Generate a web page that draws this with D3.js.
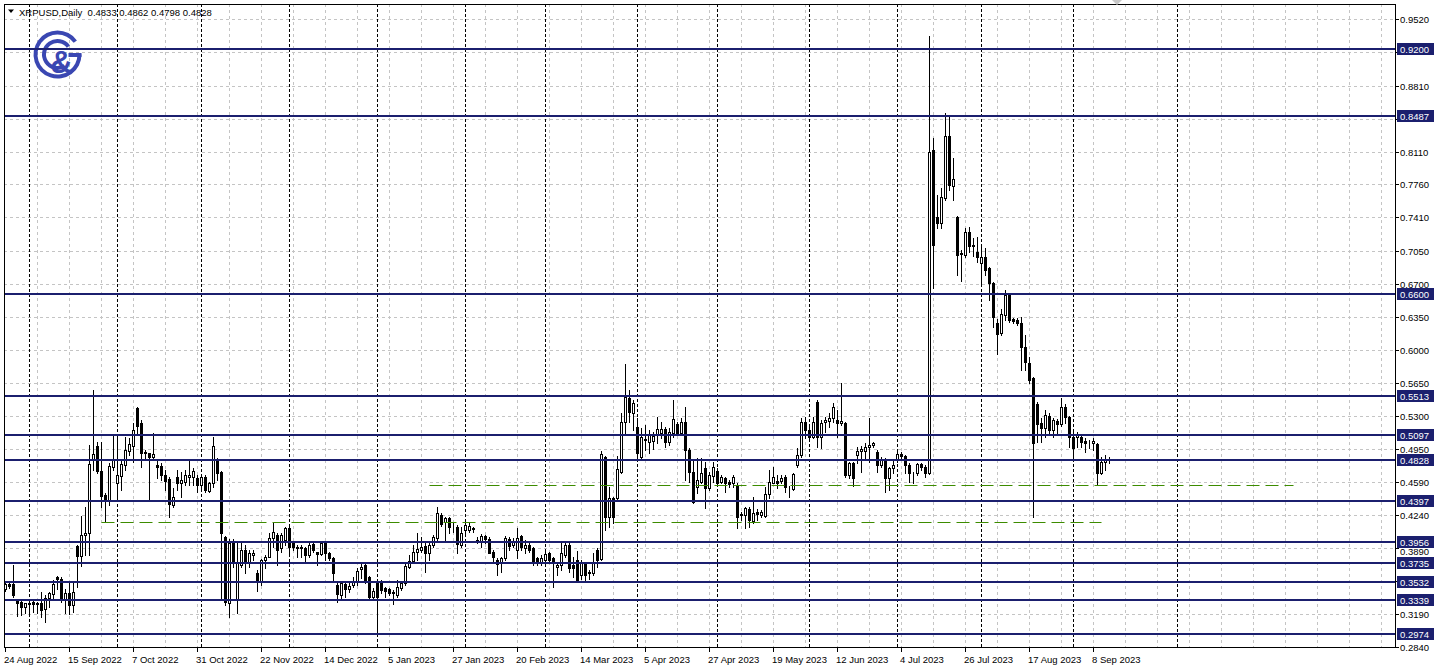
<!DOCTYPE html>
<html>
<head>
<meta charset="utf-8">
<script src="https://cdn.jsdelivr.net/npm/d3@7"></script>
<style>
body { margin: 0; background: #fff; }
svg { display: block; font-family: "Liberation Sans", Arial, sans-serif; }
</style>
</head>
<body>
<script>
let opens = [
	.3453,.3510,.3510,.3340,.3322,.3269,.3311,.3322,.3311,.3304,
	.3240,.3357,.3403,.3588,.3559,.3340,.3418,.3286,.3914,.3808,
	.4031,.4049,.4829,.4977,.4715,.4456,.4403,.4758,.4587,.4658,
	.4775,.4924,.4977,.5385,.5219,.4917,.4900,.4857,.4775,.4765,
	.4669,.4627,.4350,.4651,.4580,.4598,.4651,.4651,.4634,.4563,
	.4651,.4502,.4580,.4829,.4704,.4013,.3304,.3960,.3347,.3712,
	.3871,.3729,.3818,.3623,.3534,.3765,.3800,.3995,.4031,.3889,
	.3978,.4102,.3942,.3907,.3889,.3889,.3818,.3935,.3854,.3829,
	.3949,.3843,.3783,.3499,.3393,.3510,.3453,.3499,.3534,.3666,
	.3712,.3588,.3375,.3534,.3534,.3464,.3453,.3411,.3393,.3464,
	.3517,.3694,.3758,.3854,.3871,.3914,.3843,.3925,.3995,.4244,
	.4173,.4208,.4120,.4120,.3925,.4084,.4084,.4102,.3978,.3971,
	.4021,.3985,.3854,.3765,.3730,.3783,.3985,.3925,.3872,.4021,
	.3889,.3925,.3889,.3783,.3747,.3765,.3836,.3783,.3687,.3712,
	.3818,.3925,.3712,.3765,.3606,.3730,.3641,.3623,.3872,.3772,
	.4857,.4226,.4421,.4421,.4705,.5237,.5485,.5325,.5183,.4857,
	.5049,.5024,.5035,.5095,.5120,.5155,.5024,.5113,.5212,.5113,
	.5237,.4935,.4705,.4545,.4598,.4740,.4527,.4659,.4715,.4598,
	.4634,.4598,.4581,.4563,.4255,.4244,.4304,.4183,.4279,.4244,
	.4233,.4467,.4588,.4609,.4609,.4645,.4538,.4517,.4776,.4882,
	.5237,.5148,.5077,.5449,.5070,.5237,.5247,.5272,.5254,.5219,
	.5219,.4669,.4793,.4882,.4928,.4928,.4964,.4988,.4917,.4775,
	.4829,.4634,.4740,.4829,.4892,.4871,.4775,.4694,.4694,.4786,
	.4758,.4687,.8126,.7417,.7353,.7612,.8275,.7744,.7410,.7034,
	.7009,.7258,.7116,.7045,.6921,.6985,.6868,.6708,.6290,.6176,
	.6371,.6584,.6325,.6318,.6290,.6035,.5857,.5698,.5425,.5226,
	.5166,.5297,.5148,.5247,.5212,.5396,.5283,.5077,.5070,.5077,
	.5035,.5013,.5013,.4999,.4694,.4804,.4833
]
let highs = [
	.3535,.3517,.3712,.3340,.3329,.3311,.3322,.3340,.3322,.3428,
	.3393,.3428,.3552,.3595,.3588,.3453,.3535,.3535,.3925,.4233,
	.4325,.4988,.5573,.5024,.5024,.4474,.4793,.5095,.5077,.4829,
	.5077,.5059,.5219,.5396,.5254,.4935,.4907,.5119,.4836,.4793,
	.4722,.4651,.4527,.4722,.4705,.4722,.4829,.4740,.4669,.4669,
	.4669,.4598,.5077,.4846,.4712,.4020,.3985,.3985,.3960,.3960,
	.3925,.3871,.3871,.3659,.3772,.3818,.4049,.4173,.4049,.4049,
	.4120,.4120,.3960,.3925,.3925,.3907,.3942,.3949,.3854,.3960,
	.3960,.3854,.3793,.3517,.3524,.3524,.3517,.3588,.3676,.3729,
	.3729,.3595,.3464,.3552,.3552,.3481,.3464,.3446,.3552,.3534,
	.3747,.3818,.3925,.4056,.4006,.3960,.3949,.4031,.4325,.4261,
	.4226,.4226,.4155,.4137,.4120,.4198,.4155,.4120,.4013,.4042,
	.4031,.4013,.3872,.3783,.3801,.4021,.4013,.3996,.4102,.4031,
	.3978,.3942,.3907,.3801,.3818,.3854,.3854,.3801,.3747,.3942,
	.3942,.3942,.3801,.3864,.3765,.3747,.3659,.3836,.3889,.4928,
	.4872,.4545,.4432,.4872,.5325,.5850,.5574,.5467,.5272,.5166,
	.5201,.5148,.5130,.5290,.5237,.5183,.5166,.5467,.5237,.5272,
	.5396,.4953,.4829,.4847,.4847,.4811,.4705,.4811,.4740,.4669,
	.4652,.4616,.4669,.4581,.4279,.4332,.4332,.4439,.4304,.4297,
	.4538,.4722,.4758,.4669,.4669,.4669,.4552,.4694,.4953,.5272,
	.5290,.5176,.5290,.5467,.5254,.5290,.5325,.5432,.5361,.5644,
	.5237,.4811,.4811,.4971,.4978,.5006,.5272,.5024,.4935,.4864,
	.4847,.4758,.4829,.4917,.4917,.4882,.4793,.4705,.4800,.4800,
	.4775,.9339,.8251,.7648,.7719,.8517,.8481,.8038,.7424,.7063,
	.7293,.7311,.7187,.7205,.7098,.7080,.6885,.6726,.6325,.6431,
	.6637,.6602,.6336,.6336,.6346,.6158,.5928,.5716,.5450,.5272,
	.5361,.5325,.5272,.5262,.5485,.5425,.5297,.5148,.5130,.5095,
	.5059,.5042,.5059,.5013,.4857,.4882,.4862
]
let lows = [
	.3439,.3470,.3375,.3169,.3180,.3205,.3197,.3215,.3197,.3162,
	.3109,.3269,.3340,.3453,.3322,.3205,.3191,.3215,.3481,.3701,
	.3818,.3818,.4722,.4687,.4332,.4173,.4350,.4722,.4403,.4509,
	.4722,.4882,.4811,.5095,.4758,.4829,.4403,.4829,.4634,.4616,
	.4509,.4219,.4332,.4509,.4439,.4563,.4563,.4563,.4492,.4509,
	.4492,.4492,.4545,.4616,.3340,.3286,.3162,.3694,.3205,.3694,
	.3623,.3694,.3765,.3439,.3499,.3676,.3800,.3907,.3712,.3854,
	.3925,.3836,.3871,.3800,.3800,.3729,.3800,.3854,.3712,.3818,
	.3765,.3765,.3552,.3322,.3347,.3375,.3428,.3481,.3499,.3570,
	.3517,.3347,.3340,.2985,.3417,.3375,.3393,.3297,.3375,.3446,
	.3499,.3676,.3737,.3765,.3854,.3641,.3765,.3907,.3978,.4127,
	.3960,.4049,.4067,.3836,.3907,.4049,.4067,.4067,.3942,.3907,
	.3942,.3836,.3730,.3606,.3641,.3765,.3872,.3907,.3783,.3872,
	.3836,.3854,.3712,.3712,.3712,.3747,.3747,.3482,.3606,.3659,
	.3801,.3641,.3588,.3545,.3560,.3552,.3560,.3606,.3694,.3765,
	.4084,.4120,.4155,.4403,.4687,.5113,.5237,.5148,.4847,.4829,
	.4935,.4900,.4950,.5006,.5059,.4971,.4989,.5077,.5095,.5095,
	.4616,.4598,.4370,.4474,.4581,.4315,.4510,.4598,.4581,.4581,
	.4492,.4545,.4545,.4102,.4191,.4102,.4120,.4155,.4191,.4226,
	.4226,.4421,.4581,.4527,.4581,.4492,.4432,.4510,.4758,.4864,
	.5059,.5059,.5059,.4971,.4953,.5130,.5183,.5237,.5077,.5201,
	.4651,.4634,.4552,.4793,.4705,.4829,.4811,.4971,.4705,.4758,
	.4492,.4510,.4687,.4811,.4847,.4687,.4598,.4580,.4669,.4722,
	.4651,.4680,.6655,.7293,.7293,.7595,.7701,.7595,.6797,.6736,
	.6992,.7045,.6999,.6939,.6715,.6797,.6531,.6247,.5956,.6158,
	.6318,.6300,.6283,.6265,.5787,.5787,.5645,.4226,.5024,.5024,
	.5077,.5095,.5077,.5113,.5191,.5219,.4971,.4847,.4971,.4971,
	.4918,.4953,.4935,.4574,.4680,.4723,.4798
]
let closes = [
	.3510,.3488,.3393,.3311,.3269,.3304,.3297,.3297,.3297,.3233,
	.3357,.3411,.3510,.3563,.3340,.3411,.3286,.3428,.3808,.4031,
	.4056,.4786,.4889,.4715,.4446,.4403,.4765,.4829,.4669,.4783,
	.4935,.4999,.5148,.5190,.4907,.4900,.4857,.4889,.4758,.4669,
	.4609,.4361,.4439,.4580,.4616,.4669,.4669,.4715,.4563,.4644,
	.4509,.4580,.4977,.4694,.4049,.3322,.3942,.3729,.3729,.3871,
	.3729,.3836,.3836,.3534,.3765,.3800,.3995,.4066,.3871,.4031,
	.4102,.3907,.3907,.3889,.3907,.3818,.3925,.3871,.3829,.3949,
	.3843,.3783,.3630,.3403,.3517,.3453,.3492,.3534,.3652,.3694,
	.3534,.3375,.3439,.3375,.3446,.3439,.3411,.3425,.3474,.3517,
	.3701,.3758,.3854,.3878,.3907,.3843,.3925,.4013,.4269,.4148,
	.4208,.4113,.4113,.3935,.4049,.4137,.4130,.4098,.3960,.4021,
	.3985,.3843,.3801,.3723,.3783,.3996,.3914,.3960,.3996,.3900,
	.3925,.3872,.3730,.3747,.3783,.3829,.3765,.3730,.3712,.3836,
	.3925,.3677,.3677,.3552,.3737,.3606,.3623,.3737,.3765,.4893,
	.4226,.4421,.4226,.4730,.5237,.5503,.5343,.5439,.4900,.5070,
	.5042,.5095,.5084,.5155,.5155,.5024,.5130,.5261,.5113,.5237,
	.4935,.4705,.4386,.4616,.4687,.4527,.4669,.4758,.4588,.4645,
	.4588,.4574,.4652,.4226,.4240,.4315,.4191,.4261,.4251,.4279,
	.4467,.4598,.4645,.4588,.4634,.4538,.4545,.4680,.4882,.5237,
	.5148,.5077,.5237,.5070,.5226,.5254,.5272,.5396,.5226,.5247,
	.4669,.4793,.4634,.4928,.4942,.4971,.4988,.5006,.4775,.4829,
	.4634,.4740,.4775,.4892,.4871,.4775,.4687,.4687,.4786,.4751,
	.4687,.8109,.7116,.7346,.7630,.8275,.7754,.7814,.7009,.7020,
	.7258,.7105,.7105,.6992,.6985,.6850,.6708,.6353,.6169,.6382,
	.6584,.6318,.6311,.6283,.6035,.5875,.5680,.5006,.5212,.5166,
	.5308,.5148,.5255,.5212,.5396,.5290,.5077,.4953,.5095,.5024,
	.5006,.5006,.5035,.4694,.4804,.4829,.4828
]

let priceTicks = [0.9520, 0.9170, 0.8810, 0.8460, 0.8110, 0.7760, 0.7410, 0.7050, 0.6700, 0.6350,
	0.6000, 0.5650, 0.5300, 0.4950, 0.4590, 0.4240, 0.3890, 0.3540, 0.3190, 0.2840]
// these tick labels sit under a level tag, the terminal hides them
let hiddenTicks = [0.9170, 0.8460, 0.3540]
let levels = [0.9200, 0.8487, 0.6600, 0.5513, 0.5097, 0.4828, 0.4397, 0.3956, 0.3735, 0.3532, 0.3339, 0.2974]
let dateLabels = ['24 Aug 2022', '15 Sep 2022', '7 Oct 2022', '31 Oct 2022', '22 Nov 2022', '14 Dec 2022',
	'5 Jan 2023', '27 Jan 2023', '20 Feb 2023', '14 Mar 2023', '5 Apr 2023', '27 Apr 2023',
	'19 May 2023', '12 Jun 2023', '4 Jul 2023', '26 Jul 2023', '17 Aug 2023', '8 Sep 2023']
let labelEvery = 16
let gridEvery = 8
// first bar of each month (future months counted in calendar days like the terminal does)
let monthBars = [6, 28, 49, 71, 93, 115, 135, 158, 178, 201, 223, 244, 267, 293]
let greenLevels = [0.4166, 0.4560]
let greenFrom = [24, 106]
let greenTo = [274, 322]
let header = 'XRPUSD,Daily  0.4833 0.4862 0.4798 0.4828'

let W = 1438, H = 671
let L = 4, R = 1395, T = 4, B = 647
let navy = '#1b1f6e'
let logoBlue = '#3a47b2'

let svg = d3.select('body').append('svg')
	.attr('width', W)
	.attr('height', H)
svg.append('rect').attr('width', W).attr('height', H).attr('fill', '#fff')

let x = d3.scaleLinear().domain([0, 1]).range([5.5, 9.5])
let y = d3.scaleLinear().domain([0.2840, 0.9520]).range([647, 19])
let py = v => Math.round(y(v)) + 0.5

// grid
let grid = svg.append('g').attr('stroke', '#c4c4c4').attr('stroke-dasharray', '3,3')
grid.selectAll('line.h').data(priceTicks).enter().append('line')
	.attr('x1', L).attr('x2', R)
	.attr('y1', py).attr('y2', py)
let vgrid = d3.range(gridEvery, 400, gridEvery).filter(k => x(k) < R)
grid.selectAll('line.v').data(vgrid).enter().append('line')
	.attr('x1', x).attr('x2', x)
	.attr('y1', T).attr('y2', B)

svg.append('g').attr('stroke', '#000').attr('stroke-dasharray', '3,2')
	.selectAll('line').data(monthBars).enter().append('line')
	.attr('x1', x).attr('x2', x)
	.attr('y1', T).attr('y2', B)

// logo
let logo = svg.append('g').attr('transform', 'translate(57.5,54.5)').attr('fill', logoBlue)
logo.append('path').attr('d', d3.arc()({ innerRadius: 20, outerRadius: 24, startAngle: Math.PI * 0.5, endAngle: Math.PI * 2.3 }))
logo.append('path').attr('d', d3.arc()({ innerRadius: 11.5, outerRadius: 15.5, startAngle: Math.PI * 0.82, endAngle: Math.PI * 2.3 }))
logo.append('rect').attr('x', 11).attr('y', -1.5).attr('width', 13).attr('height', 4)
logo.append('text').attr('x', 4).attr('y', 18).attr('text-anchor', 'middle')
	.style('font', 'bold 31px "Liberation Sans", Arial, sans-serif')
	.text('&')

// candles
let bars = d3.range(opens.length)
let cg = svg.append('g')
cg.selectAll('line').data(bars).enter().append('line')
	.attr('stroke', '#000')
	.attr('x1', x).attr('x2', x)
	.attr('y1', k => Math.round(y(highs[k]))).attr('y2', k => Math.round(y(lows[k])) + 1)
cg.selectAll('rect').data(bars).enter().append('rect')
	.attr('x', k => x(k) - 1)
	.attr('y', k => py(Math.max(opens[k], closes[k])))
	.attr('width', 2)
	.attr('height', k => py(Math.min(opens[k], closes[k])) - py(Math.max(opens[k], closes[k])))
	.attr('fill', k => closes[k] >= opens[k] ? '#fff' : '#000')
	.attr('stroke', '#000')

// objects
svg.append('g').attr('stroke', '#3d8c00').attr('stroke-dasharray', '13,6')
	.selectAll('line').data(greenLevels).enter().append('line')
	.attr('x1', (v, i) => x(greenFrom[i])).attr('x2', (v, i) => x(greenTo[i]))
	.attr('y1', py).attr('y2', py)

svg.append('g').attr('stroke', navy).attr('stroke-width', 2)
	.selectAll('line').data(levels).enter().append('line')
	.attr('x1', L).attr('x2', R)
	.attr('y1', v => Math.round(y(v))).attr('y2', v => Math.round(y(v)))

// frame
svg.append('rect').attr('x', L + 0.5).attr('y', T + 0.5)
	.attr('width', R - L).attr('height', B - T)
	.attr('fill', 'none').attr('stroke', '#000')

// price axis
let axis = svg.append('g').style('font-size', '9.5px')
axis.selectAll('line').data(priceTicks).enter().append('line')
	.attr('stroke', '#000')
	.attr('x1', R + 0.5).attr('x2', R + 4)
	.attr('y1', py).attr('y2', py)
axis.selectAll('text').data(priceTicks.filter(v => !hiddenTicks.includes(v))).enter().append('text')
	.attr('x', R + 5).attr('y', v => py(v) + (v === 0.3890 ? 6 : 3.5))
	.text(d3.format('.4f'))

let tags = svg.append('g').style('font-size', '9.5px')
tags.selectAll('rect').data(levels).enter().append('rect')
	.attr('x', R + 2).attr('y', v => Math.round(y(v)) - 6)
	.attr('width', 37).attr('height', 12)
	.attr('fill', navy)
tags.selectAll('text').data(levels).enter().append('text')
	.attr('x', R + 5).attr('y', v => Math.round(y(v)) + 3.5)
	.attr('fill', '#fff')
	.text(d3.format('.4f'))

// time axis
let tg = svg.append('g').style('font-size', '9.5px')
tg.selectAll('line').data(dateLabels).enter().append('line')
	.attr('stroke', '#000')
	.attr('x1', (d, i) => x(i * labelEvery)).attr('x2', (d, i) => x(i * labelEvery))
	.attr('y1', B).attr('y2', B + 5)
tg.selectAll('text').data(dateLabels).enter().append('text')
	.attr('x', (d, i) => x(i * labelEvery) - 1.5).attr('y', 663)
	.text(d => d)

// header
svg.append('path').attr('d', 'M8,9.5L14,9.5L11,13Z').attr('fill', '#000')
svg.append('text').attr('x', 19).attr('y', 16)
	.attr('xml:space', 'preserve')
	.style('font-size', '9.5px').style('white-space', 'pre')
	.text(header)

svg.append('path').attr('d', 'M1112,0L1122,0L1117,5Z').attr('fill', '#c8c8c8')
</script>
</body>
</html>
